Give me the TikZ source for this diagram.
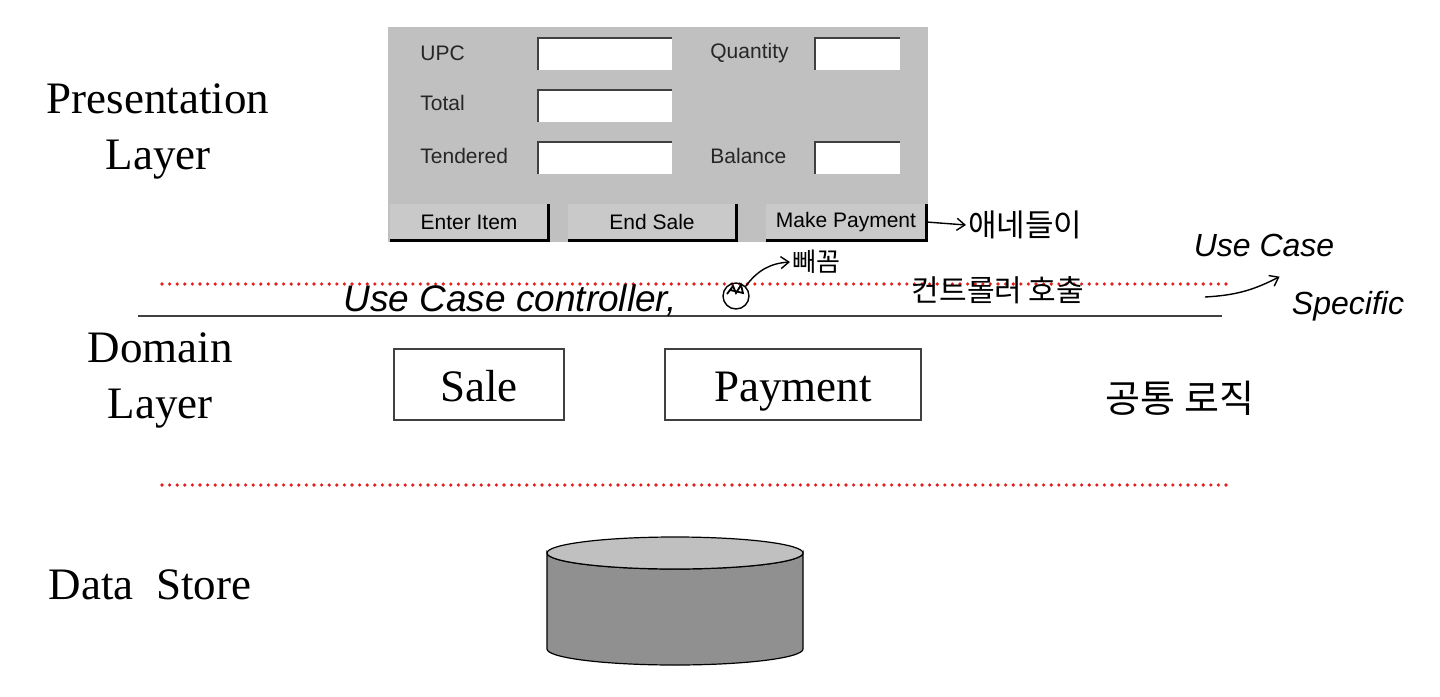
\documentclass[tikz,border=0pt]{standalone}
\usepackage{fontspec}
\setmainfont{Liberation Serif}
\newfontfamily\formfont{Liberation Sans}
\newfontfamily\handfont{Liberation Sans}
\newfontfamily\kofont{Noto Sans CJK KR}
\usepackage{xcolor}
\definecolor{FormGray}{HTML}{C0C0C0}
\definecolor{EdgeDark}{HTML}{404040}
\definecolor{DiskTop}{HTML}{C0C0C0}
\definecolor{DiskSide}{HTML}{909090}
\definecolor{DotRed}{HTML}{E41E1E}
\usepackage{tikz}
\usetikzlibrary{arrows.meta, positioning, calc}
\tikzset{
  % Text styles
  layerlabel/.style={font=\fontsize{22.5}{28}\selectfont, align=center},
  formlabel/.style={anchor=west, inner sep=0pt, text=black!85, font=\formfont\fontsize{10.5}{12}\selectfont},
  handtext/.style={inner sep=1pt, font=\handfont\itshape\fontsize{16}{18}\selectfont},
  kotext/.style={inner sep=1pt, font=\kofont\fontsize{13}{15}\selectfont},
  % Box styles
  classbox/.style={rectangle, draw=EdgeDark, line width=0.6pt, minimum width=85pt, minimum height=35.5pt, inner sep=0pt, text height=21pt, text depth=4pt, font=\fontsize{22.5}{27}\selectfont},
  fieldbox/.style={rectangle, fill=white, minimum width=67pt, minimum height=16pt, inner sep=0pt},
  buttonbox/.style={rectangle, fill=FormGray!85!white, minimum height=18pt, inner sep=0pt, font=\formfont\fontsize{10.5}{12}\selectfont},
  % Line styles
  fieldedge/.style={draw=EdgeDark, line width=1pt},
  buttonedge/.style={draw=black, line width=1.2pt},
  reddots/.style={DotRed, line width=1.8pt, line cap=round, dash pattern=on 0pt off 3.8pt},
  layerline/.style={EdgeDark, line width=0.9pt},
  handarrow/.style={-{Straight Barb[length=4pt, width=6pt]}, line width=0.7pt},
  disk/.style={draw=black, line width=0.6pt}
}

\begin{document}
\begin{tikzpicture}[x=0.5pt, y=-0.5pt]
  \useasboundingbox (0,0) rectangle (1440,696);

  % Layer names
  \node[layerlabel] (pres) at (158,131) {Presentation\\Layer};
  \node[layerlabel] (dom) at (160,380) {Domain\\Layer};
  \node[layerlabel] (store) at (150,585) {Data\ \ Store};

  % Form window
  \fill[FormGray] (388,27) rectangle (928,242);
  \node[formlabel] (upcl) at (420,53) {UPC};
  \node[formlabel] (totl) at (420,103) {Total};
  \node[formlabel] (tenl) at (420,156) {Tendered};
  \node[formlabel] (qtyl) at (710,53) {Quantity};
  \node[formlabel] (ball) at (710,156) {Balance};

  \node[fieldbox] (upcf) at (605,54) {};
  \node[fieldbox] (totf) at (605,106) {};
  \node[fieldbox] (tenf) at (605,158) {};
  \node[fieldbox, minimum width=42.5pt] (qtyf) at (857.5,54) {};
  \node[fieldbox, minimum width=42.5pt] (balf) at (857.5,158) {};
  \foreach \f in {upcf,totf,tenf,qtyf,balf}
    \draw[fieldedge] (\f.south west) |- (\f.north east);

  \node[buttonbox, minimum width=79pt] (enter) at (469,222) {Enter Item};
  \node[buttonbox, minimum width=84pt] (endsale) at (652,222) {End Sale};
  \node[buttonbox, minimum width=80pt] (makepay) at (846,222) {Make Payment};
  \foreach \b in {enter,endsale,makepay}
    \draw[buttonedge] (\b.south west) -| (\b.north east);

  % Layer borders
  \draw[reddots] (162,284) -- (1228,284);
  \draw[layerline] (138,316) -- (1222,316);
  \draw[reddots] (162,485) -- (1228,485);

  % Domain classes
  \node[classbox] (sale) at (479,384.5) {Sale};
  \node[classbox, minimum width=128pt] (payment) at (793,384.5) {Payment};

  % Data store
  \filldraw[disk, fill=DiskSide] (547,553) -- (547,649)
    arc[start angle=180, end angle=360, x radius=64pt, y radius=8pt] -- (803,553)
    arc[start angle=0, end angle=-180, x radius=64pt, y radius=8pt] -- cycle;
  \filldraw[disk, fill=DiskTop] (675,553) ellipse [x radius=64pt, y radius=8pt];

  % Notes
  \node[kotext, anchor=west, font=\kofont\fontsize{15.5}{17}\selectfont] (callers) at (966,225) {애네들이};
  \node[kotext, font=\kofont\fontsize{15}{17}\selectfont] (callctl) at (998,290) {컨트롤러 호출};
  \draw[handarrow] (makepay.east) -- (callers.west);

  \node[circle, draw=black, line width=0.7pt, minimum size=13pt, inner sep=0pt] (peek) at (736,296) {};
  \draw[line width=0.9pt] ($(peek.center)+(-9,-2)$) -- ($(peek.center)+(-3,-10)$) -- ($(peek.center)+(0,-3)$) -- ($(peek.center)+(5,-11)$) -- ($(peek.center)+(7,-3)$) -- ($(peek.center)+(-6,-6)$);
  \node[kotext, anchor=west] (peeklbl) at (790,262) {빼꼼};
  \draw[handarrow] (peek.north east) to[bend left=25] (peeklbl.west);

  \node[handtext, font=\handfont\itshape\fontsize{18.5}{20}\selectfont] (ucctl) at (510,300) {Use Case controller,};

  \node[handtext] (uccase) at (1264,245) {Use Case};
  \node[handtext] (ucspec) at (1348,306) {Specific};
  \coordinate (ucfrom) at (1205,297);
  \draw[handarrow] (ucfrom) to[bend right=12] ($(ucspec.north west)+(-10,-12)$);

  \node[kotext, font=\kofont\fontsize{19}{21}\selectfont] (common) at (1180,398) {공통 로직};
\end{tikzpicture}
\end{document}
